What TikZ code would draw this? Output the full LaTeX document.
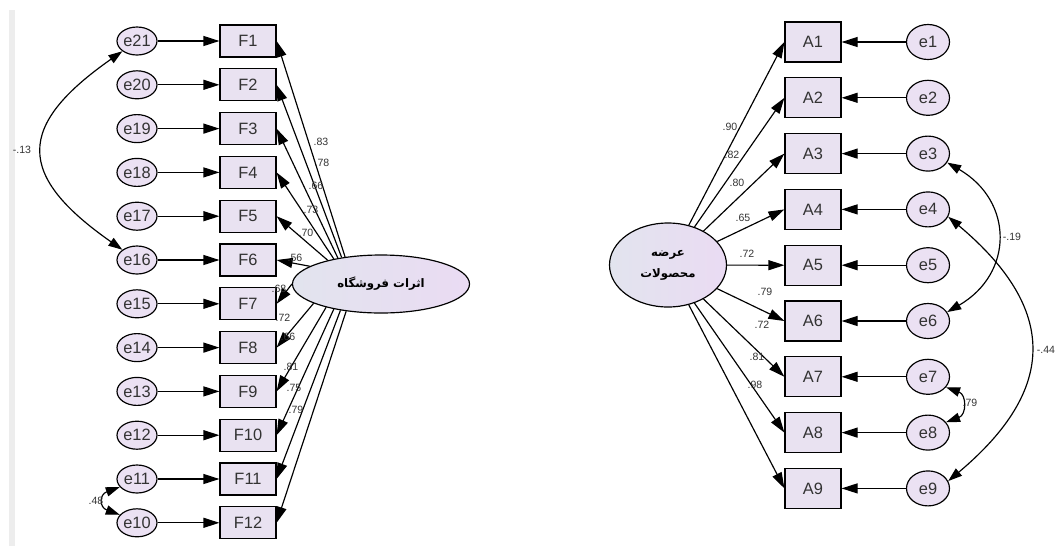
\documentclass[tikz,border=0pt]{standalone}
\usepackage{fontspec}
\setmainfont{Liberation Sans}
\newfontfamily\arabicfont[Script=Arabic]{DejaVu Sans}
\TeXXeTstate=1
\usetikzlibrary{arrows.meta,shapes.geometric}
\definecolor{boxfill}{HTML}{E9E2F1}
\definecolor{errfill}{HTML}{EBE1F3}
\definecolor{latleft}{HTML}{E2E4EE}
\definecolor{latright}{HTML}{EADBF3}
\definecolor{txt}{HTML}{333333}

\begin{document}
\begin{tikzpicture}[x=0.03cm,y=0.03cm,
  obs/.style={rectangle,draw,line width=1pt,fill=boxfill,minimum width=1.68cm,text=txt,font=\fontsize{14}{14}\selectfont},
  err/.style={ellipse,draw,line width=1pt,fill=errfill,inner sep=0pt,text=txt,font=\fontsize{14}{14}\selectfont},
  latent/.style={ellipse,draw,line width=1pt,left color=latleft,right color=latright,inner sep=0pt,text=black,align=center},
  path/.style={line width=1pt,-{Triangle[length=4.8mm,width=3mm]}},
  cov/.style={line width=1pt,{Triangle[length=4.2mm,width=2.8mm]}-{Triangle[length=4.2mm,width=2.8mm]}},
  est/.style={inner sep=0pt,text=txt,font=\fontsize{9}{9}\selectfont}]
\useasboundingbox (0,0) rectangle (1059,-546);
\fill[black!7] (9,-10) rectangle (15,-546);

% left model
\foreach \i/\e in {1/21,2/20,3/19,4/18,5/17,6/16,7/15,8/14,9/13,10/12,11/11,12/10} {
  \pgfmathsetmacro{\y}{-41-(\i-1)*43.8}
  \node[obs,minimum height=0.96cm] (F\i) at (248,\y) {F\i};
  \node[err,minimum width=1.2cm,minimum height=0.84cm] (e\e) at (137,\y) {e\e};
  \draw[path] (e\e) -- (F\i);
}
\node[latent,minimum width=5.31cm,minimum height=1.74cm,font=\arabicfont\bfseries\fontsize{10}{10}\selectfont] (L) at (381,-284) {\beginR اثرات فروشگاه\endR};
\foreach \i/\a/\v/\lx/\ly in {1/143/.83/321/142,2/146/.78/322/163,3/149/.66/316/186,4/152/.73/311/210,
  5/156/.70/306/233,6/166/.56/295/258,7/180/.68/279/289,8/196/.72/283/318,9/203/.66/288/337,
  10/208/.81/291/367,11/213/.75/294/388,12/218/.79/296/410} {
  \draw[path] (L.\a) -- (F\i.east);
  \node[est] (lf\i) at (\lx,-\ly) {\v};
}
\draw[cov] (e21.215) .. controls +(215:130) and +(145:130) .. (e16.145);
\node[est] (c1) at (22,-150) {-.13};
\draw[cov] (e11.205) .. controls +(200:22) and +(160:22) .. (e10.155);
\node[est] (c2) at (96,-501) {.48};

% right model
\foreach \i in {1,...,9} {
  \pgfmathsetmacro{\y}{-42-(\i-1)*55.8}
  \node[obs,minimum height=1.2cm] (A\i) at (813,\y) {A\i};
  \node[err,minimum width=1.29cm,minimum height=1.05cm] (e\i) at (928,\y) {e\i};
  \draw[path] (e\i) -- (A\i);
}
\node[latent,minimum width=3.51cm,minimum height=2.52cm,font=\arabicfont\bfseries\fontsize{10}{18}\selectfont] (R) at (668,-265) {\beginR عرضه\endR\\\beginR محصولات\endR};
\foreach \i/\v/\lx/\ly in {1/.90/730/127,2/.82/732/155,3/.80/737/183,4/.65/743/218,5/.72/747/254,
  6/.79/765/292,7/.72/762/325,8/.81/757/357,9/.98/755/385} {
  \draw[path] (R) -- (A\i.west);
  \node[est] (la\i) at (\lx,-\ly) {\v};
}
\draw[cov] (e3.-25) .. controls +(-30:77) and +(30:77) .. (e6.25);
\node[est] (c3) at (1012,-237) {-.19};
\draw[cov] (e4.-20) .. controls +(-40:143) and +(40:143) .. (e9.20);
\node[est] (c4) at (1046,-350) {-.44};
\draw[cov] (e7.-30) .. controls +(-20:22) and +(20:22) .. (e8.30);
\node[est] (c5) at (970,-403) {.79};
\end{tikzpicture}
\end{document}
